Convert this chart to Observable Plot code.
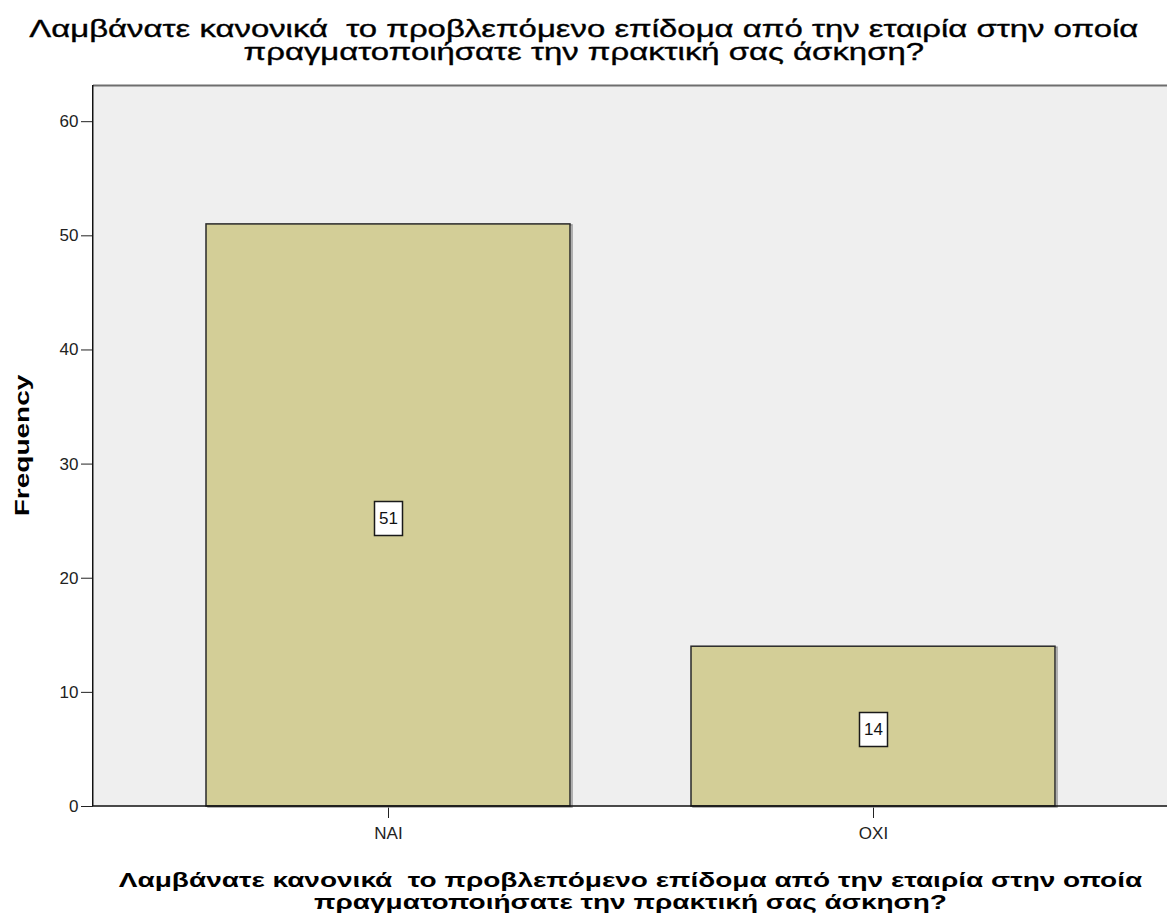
<!DOCTYPE html>
<html>
<head>
<meta charset="utf-8">
<script src="https://cdn.jsdelivr.net/npm/d3@7"></script>
<script src="https://cdn.jsdelivr.net/npm/@observablehq/plot@0.6"></script>
<style>
  html, body { margin: 0; padding: 0; background: #fff; }
  body { width: 1167px; height: 923px; overflow: hidden; font-family: Arial, "Liberation Sans", sans-serif; }
  #title { height: 57px; padding-top: 18px; text-align: center; color: #000; }
  #title span { display: inline-block; font-size: 23px; line-height: 23px; transform: scaleX(1.43); transform-origin: center; -webkit-text-stroke: 0.35px #000; white-space: nowrap; }
  #xlabel { padding-top: 23px; padding-left: 93px; text-align: center; color: #000; }
  #xlabel span { display: inline-block; font-size: 20px; font-weight: bold; line-height: 22px; transform: scaleX(1.4); transform-origin: center; white-space: nowrap; }
  #chart svg { display: block; }
</style>
</head>
<body>
<div id="title"><span></span></div>
<div id="chart"></div>
<div id="xlabel"><span></span></div>
<script>
const titleLines = [
  "Λαμβάνατε κανονικά\u00a0 το προβλεπόμενο επίδομα από την εταιρία στην οποία",
  "πραγματοποιήσατε την πρακτική σας άσκηση?"
];
const categories = ["NAI", "OXI"];
const counts = [51, 14];
const yTicks = [0, 10, 20, 30, 40, 50, 60];
const yLabel = "Frequency";

document.querySelector("#title span").innerHTML = titleLines.join("<br>");
document.querySelector("#xlabel span").innerHTML = titleLines.join("<br>");

const data = categories.map((c, i) => ({cat: c, n: counts[i]}));

const boxSymbol = {draw(context) { context.rect(-14, -17, 28, 34); }};

const frameLines = (index, scales, values, dims) => {
  const g = d3.create("svg:g");
  const x0 = dims.marginLeft, x1 = dims.width - dims.marginRight;
  const y0 = dims.marginTop, y1 = dims.height - dims.marginBottom;
  g.append("line").attr("x1", x0).attr("x2", x1).attr("y1", y0 + 0.5).attr("y2", y0 + 0.5)
    .attr("stroke", "#6e6e6e").attr("stroke-width", 2);
  g.append("line").attr("x1", x0 - 0.25).attr("x2", x0 - 0.25).attr("y1", y0).attr("y2", y1)
    .attr("stroke", "#111").attr("stroke-width", 1.5);
  g.append("line").attr("x1", x0).attr("x2", x1).attr("y1", y1).attr("y2", y1)
    .attr("stroke", "#111").attr("stroke-width", 1.5);
  return g.node();
};

const yTitle = (index, scales, values, dims) => {
  const cy = (dims.marginTop + dims.height - dims.marginBottom) / 2;
  const t = d3.create("svg:text")
    .attr("transform", `translate(22,${cy}) rotate(-90) scale(1.4,1)`)
    .attr("text-anchor", "middle")
    .attr("dy", "0.35em")
    .attr("font-size", 20)
    .attr("font-weight", "bold")
    .attr("fill", "#000")
    .text(yLabel);
  return t.node();
};

const chart = Plot.plot({
  width: 1167,
  height: 771,
  marginTop: 10,
  marginBottom: 40,
  marginLeft: 93,
  marginRight: 0,
  style: {fontFamily: "Arial, 'Liberation Sans', sans-serif", fontSize: "17px", color: "#222", background: "#fff"},
  x: {domain: categories, paddingInner: 0.25, paddingOuter: 0.232, label: null, tickSize: 12, tickPadding: 8},
  y: {domain: [0, 63.17], ticks: yTicks, label: null, tickSize: 12, tickPadding: 3},
  marks: [
    Plot.frame({fill: "#efefef", stroke: null}),
    Plot.barY(data, {x: "cat", y: "n", fill: "none", stroke: "#9a9a9a", strokeWidth: 1.5, dx: 2, dy: 1}),
    Plot.barY(data, {x: "cat", y: "n", fill: "#d3ce97", stroke: "#2a2a2a", strokeWidth: 1.5}),
    Plot.dot(data, {x: "cat", y: d => d.n / 2, symbol: boxSymbol, fill: "#fff", stroke: "#1a1a1a", strokeWidth: 1.5, dy: 3}),
    Plot.text(data, {x: "cat", y: d => d.n / 2, text: d => String(d.n), fontSize: 17, fill: "#111", dy: 3}),
    yTitle,
    frameLines
  ]
});
document.getElementById("chart").appendChild(chart);
</script>
</body>
</html>
